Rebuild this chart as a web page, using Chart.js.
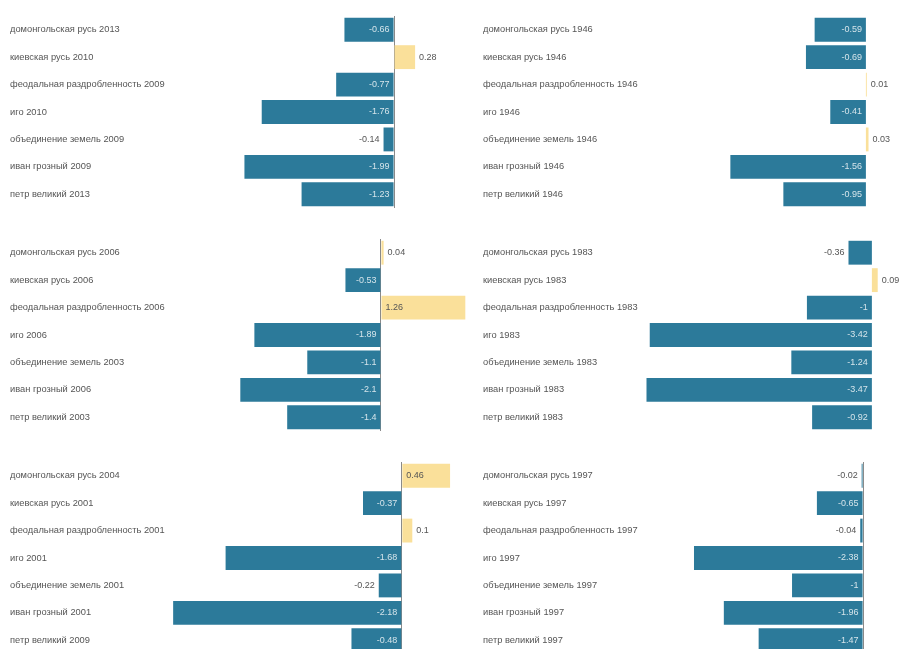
<!DOCTYPE html>
<html>
<head>
<meta charset="utf-8">
<script src="https://cdn.jsdelivr.net/npm/chart.js@4.4.1/dist/chart.umd.min.js"></script>
<style>
  html, body { margin: 0; padding: 0; background: #fff; overflow: hidden; }
  body { width: 907px; height: 649px; position: relative; }
  canvas { position: absolute; }
</style>
</head>
<body>
<canvas id="c0"></canvas>
<canvas id="c1"></canvas>
<canvas id="c2"></canvas>
<canvas id="c3"></canvas>
<canvas id="c4"></canvas>
<canvas id="c5"></canvas>
<script>
// категории и значения, по панелям
const labels2013 = ['домонгольская русь 2013', 'киевская русь 2010', 'феодальная раздробленность 2009', 'иго 2010', 'объединение земель 2009', 'иван грозный 2009', 'петр великий 2013'];
const values2013 = [-0.66, 0.28, -0.77, -1.76, -0.14, -1.99, -1.23];

const labels1946 = ['домонгольская русь 1946', 'киевская русь 1946', 'феодальная раздробленность 1946', 'иго 1946', 'объединение земель 1946', 'иван грозный 1946', 'петр великий 1946'];
const values1946 = [-0.59, -0.69, 0.01, -0.41, 0.03, -1.56, -0.95];

const labels2006 = ['домонгольская русь 2006', 'киевская русь 2006', 'феодальная раздробленность 2006', 'иго 2006', 'объединение земель 2003', 'иван грозный 2006', 'петр великий 2003'];
const values2006 = [0.04, -0.53, 1.26, -1.89, -1.1, -2.1, -1.4];

const labels1983 = ['домонгольская русь 1983', 'киевская русь 1983', 'феодальная раздробленность 1983', 'иго 1983', 'объединение земель 1983', 'иван грозный 1983', 'петр великий 1983'];
const values1983 = [-0.36, 0.09, -1, -3.42, -1.24, -3.47, -0.92];

const labels2001 = ['домонгольская русь 2004', 'киевская русь 2001', 'феодальная раздробленность 2001', 'иго 2001', 'объединение земель 2001', 'иван грозный 2001', 'петр великий 2009'];
const values2001 = [0.46, -0.37, 0.1, -1.68, -0.22, -2.18, -0.48];

const labels1997 = ['домонгольская русь 1997', 'киевская русь 1997', 'феодальная раздробленность 1997', 'иго 1997', 'объединение земель 1997', 'иван грозный 1997', 'петр великий 1997'];
const values1997 = [-0.02, -0.65, -0.04, -2.38, -1, -1.96, -1.47];

// пределы оси x для каждой панели
const axisMin = [-2.98, -2.6, -3.15, -3.57, -2.21, -3.14];
const axisMax = [1.01, 0.45, 1.33, 0.51, 0.65, 0.59];

const panels = [
  { labels: labels2013, values: values2013 },
  { labels: labels1946, values: values1946 },
  { labels: labels2006, values: values2006 },
  { labels: labels1983, values: values1983 },
  { labels: labels2001, values: values2001 },
  { labels: labels1997, values: values1997 }
];

const BLUE = '#2c7a9a';
const YELLOW = '#fae09a';
const FONT = '"Liberation Sans", Arial, sans-serif';

// подписи значений у столбцов
const valueLabels = {
  id: 'valueLabels',
  afterDatasetsDraw(chart) {
    const ctx = chart.ctx;
    const meta = chart.getDatasetMeta(0);
    const values = chart.data.datasets[0].data;
    ctx.save();
    ctx.font = '9px ' + FONT;
    ctx.textBaseline = 'middle';
    meta.data.forEach((bar, i) => {
      const v = values[i];
      const txt = String(v);
      const w = ctx.measureText(txt).width;
      const len = Math.abs(bar.x - bar.base);
      if (v < 0) {
        ctx.textAlign = 'right';
        if (len > w + 8) {
          ctx.fillStyle = 'rgba(255,255,255,0.8)';
          ctx.fillText(txt, bar.base - 4, bar.y);
        } else {
          ctx.fillStyle = '#555';
          ctx.fillText(txt, bar.x - 4, bar.y);
        }
      } else {
        ctx.textAlign = 'left';
        ctx.fillStyle = '#555';
        if (len > w + 8) {
          ctx.fillText(txt, bar.base + 4, bar.y);
        } else {
          ctx.fillText(txt, bar.x + 4, bar.y);
        }
      }
    });
    ctx.restore();
  }
};

const tops = [6, 6, 228.5, 228.5, 451.5, 451.5];

panels.forEach((p, i) => {
  const canvas = document.getElementById('c' + i);
  const isLeft = i % 2 === 0;
  const W = isLeft ? 470 : 437;
  const H = 212.5;
  canvas.width = W;
  canvas.height = H;
  canvas.style.left = (isLeft ? 0 : 470) + 'px';
  canvas.style.top = tops[i] + 'px';

  new Chart(canvas, {
    type: 'bar',
    data: {
      labels: p.labels,
      datasets: [{
        data: p.values,
        backgroundColor: p.values.map(v => v < 0 ? BLUE : YELLOW),
        borderWidth: 0,
        barPercentage: 0.87,
        categoryPercentage: 1
      }]
    },
    options: {
      indexAxis: 'y',
      responsive: false,
      animation: false,
      layout: { padding: { left: isLeft ? 10 : 13, right: isLeft ? 0 : 2, top: 10, bottom: 10 } },
      plugins: { legend: { display: false }, tooltip: { enabled: false } },
      scales: {
        x: {
          min: axisMin[i],
          max: axisMax[i],
          ticks: { display: false },
          border: { display: false },
          grid: {
            drawTicks: false,
            color: ctx => ctx.tick && ctx.tick.value === 0 ? '#8a8a8a' : 'rgba(0,0,0,0)',
            lineWidth: 1
          }
        },
        y: {
          border: { display: false },
          grid: { display: false, drawTicks: false },
          ticks: {
            crossAlign: 'far',
            color: '#555',
            font: { size: 9.3, family: FONT }
          },
          afterFit(scale) { scale.width = isLeft ? 160 : 157; }
        }
      }
    },
    plugins: [valueLabels]
  });
});
</script>
</body>
</html>
